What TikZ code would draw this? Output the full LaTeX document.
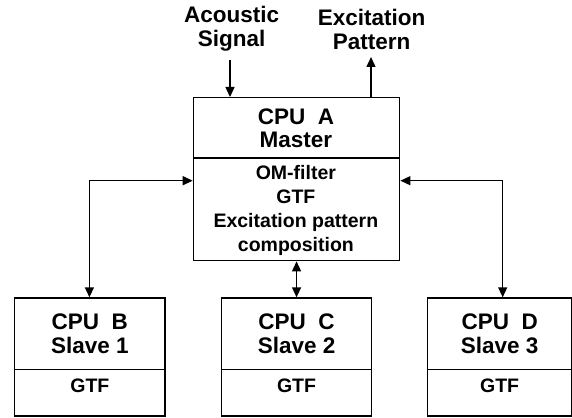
\documentclass[tikz,border=0pt]{standalone}
\usepackage{fontspec}
\setmainfont{Liberation Sans}
\usetikzlibrary{arrows.meta}
\begin{document}
\begin{tikzpicture}[x=1pt,y=-1pt,
  cell/.style={draw,line width=1.4pt,rectangle,inner sep=0pt,anchor=north west},
  hdr/.style={font=\bfseries\fontsize{22.5}{23.5}\selectfont,align=center,inner sep=0pt},
  body/.style={font=\bfseries\fontsize{19.5}{24}\selectfont,align=center,inner sep=0pt},
  conn/.style={line width=1.4pt,-{Triangle[length=10pt,width=9pt]}},
  bidir/.style={line width=1.4pt,{Triangle[length=10pt,width=9pt]}-{Triangle[length=10pt,width=9pt]}}]
\useasboundingbox (0,0) rectangle (572,417);

% Master
\node[cell,minimum width=206.3pt,minimum height=60.3pt] (mTop) at (192.7,97) {};
\node[cell,minimum width=206.3pt,minimum height=102.7pt] (mBot) at (192.7,157.3) {};
\node[hdr] (mTopT) at (295.9,128.5) {CPU\ \ A\\Master};
\node[body] (mBotT) at (295.9,210.6) {OM-filter\\GTF\\Excitation pattern\\composition};

% Slaves
\node[cell,minimum width=150.3pt,minimum height=71.4pt] (bTop) at (14,297.3) {};
\node[cell,minimum width=150.3pt,minimum height=46.6pt] (bBot) at (14,368.7) {};
\node[cell,minimum width=150.3pt,minimum height=71.4pt] (cTop) at (220.7,297.3) {};
\node[cell,minimum width=150.3pt,minimum height=46.6pt] (cBot) at (220.7,368.7) {};
\node[cell,minimum width=144.5pt,minimum height=71.4pt] (dTop) at (426.7,297.3) {};
\node[cell,minimum width=144.5pt,minimum height=46.6pt] (dBot) at (426.7,368.7) {};

\node[hdr] (bTopT) at (bTop.center) {CPU\ \ B\\Slave 1};
\node[hdr] (cTopT) at (cTop.center) {CPU\ \ C\\Slave 2};
\node[hdr] (dTopT) at (dTop.center) {CPU\ \ D\\Slave 3};
\node[body] (bBotT) at ([yshift=7pt]bBot.center) {GTF};
\node[body] (cBotT) at ([yshift=7pt]cBot.center) {GTF};
\node[body] (dBotT) at ([yshift=7pt]dBot.center) {GTF};

% Top labels
\node[hdr,font=\bfseries\fontsize{22.5}{24}\selectfont] (acs) at (231.7,28.5) {Acoustic\\Signal};
\node[hdr,font=\bfseries\fontsize{22.5}{24}\selectfont] (exc) at (371.7,29) {Excitation\\Pattern};
\coordinate (asIn) at (230,60);
\coordinate (exOut) at (371,57);
\draw[conn] (asIn) -- (asIn |- mTop.north);
\draw[conn] (exOut |- mTop.north) -- (exOut);

% Connectors to slaves
\coordinate (cl) at (89.4,180.7);
\coordinate (cr) at (502.7,180.7);
\draw[bidir] (mBot.west |- cl) -- (cl) -- (cl |- bTop.north);
\draw[bidir] (mBot.east |- cr) -- (cr) -- (cr |- dTop.north);
\draw[bidir] (mBot.south) -- (cTop.north);
\end{tikzpicture}
\end{document}
